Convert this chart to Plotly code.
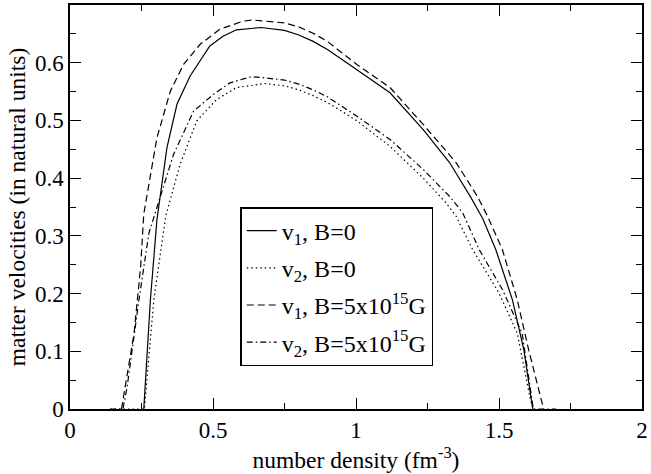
import plotly.graph_objects as go

# v1, B=0 (solid)
x_v1_b0 = [0.258, 0.281, 0.304, 0.339, 0.374, 0.420, 0.489, 0.535, 0.582, 0.640, 0.668, 0.75, 0.80, 0.85, 0.90, 0.95,
           1.004, 1.119, 1.235, 1.327, 1.400, 1.443, 1.489, 1.547, 1.587, 1.618]
y_v1_b0 = [0.0, 0.189, 0.328, 0.453, 0.528, 0.577, 0.629, 0.646, 0.657, 0.660, 0.661, 0.656, 0.648, 0.637, 0.623, 0.606,
           0.587, 0.548, 0.484, 0.427, 0.368, 0.330, 0.276, 0.189, 0.102, 0.0]

# v2, B=0 (dotted)
x_v2_b0 = [0.14, 0.26, 0.293, 0.335, 0.385, 0.443, 0.512, 0.582, 0.640, 0.68, 0.75, 0.80, 0.85, 0.90, 0.95,
           1.004, 1.119, 1.235, 1.315, 1.350, 1.408, 1.500, 1.564, 1.610, 1.62]
y_v2_b0 = [0.0, 0.0, 0.189, 0.335, 0.424, 0.499, 0.536, 0.557, 0.561, 0.564, 0.560, 0.553, 0.543, 0.531, 0.516,
           0.499, 0.455, 0.400, 0.357, 0.334, 0.276, 0.201, 0.131, 0.016, 0.0]

# v1, B=5x10^15 G (dashed)
x_v1_b5 = [0.180, 0.224, 0.247, 0.258, 0.304, 0.351, 0.397, 0.455, 0.524, 0.605, 0.64, 0.75, 0.80, 0.85, 0.90, 0.95,
           1.003, 1.119, 1.235, 1.350, 1.425, 1.460, 1.512, 1.564, 1.604, 1.656]
y_v1_b5 = [0.0, 0.131, 0.247, 0.338, 0.470, 0.551, 0.597, 0.632, 0.658, 0.672, 0.674, 0.669, 0.662, 0.651, 0.637, 0.618,
           0.597, 0.557, 0.493, 0.427, 0.368, 0.334, 0.276, 0.189, 0.102, 0.0]

# v2, B=5x10^15 G (dash-dot)
x_v2_b5 = [0.14, 0.185, 0.200, 0.241, 0.276, 0.304, 0.362, 0.432, 0.501, 0.559, 0.628, 0.657, 0.75, 0.80, 0.85, 0.90,
           0.95, 1.004, 1.119, 1.235, 1.330, 1.373, 1.431, 1.512, 1.581, 1.616, 1.62, 1.70]
y_v2_b5 = [0.0, 0.0, 0.039, 0.189, 0.305, 0.350, 0.441, 0.516, 0.545, 0.565, 0.575, 0.575, 0.570, 0.563, 0.553, 0.541,
           0.525, 0.507, 0.467, 0.415, 0.367, 0.340, 0.276, 0.207, 0.131, 0.016, 0.0, 0.0]

x_ticks = [0, 0.5, 1, 1.5, 2]
y_ticks = [0, 0.1, 0.2, 0.3, 0.4, 0.5, 0.6]

FONT = "Liberation Serif, 'Times New Roman', Times, 'DejaVu Serif', serif"
fig = go.Figure()

series = [
    (x_v1_b0, y_v1_b0, "v<sub>1</sub>, B=0", "solid"),
    (x_v2_b0, y_v2_b0, "v<sub>2</sub>, B=0", "1.5px,3px"),
    (x_v1_b5, y_v1_b5, "v<sub>1</sub>, B=5x10<sup>15</sup>G", "7px,4px"),
    (x_v2_b5, y_v2_b5, "v<sub>2</sub>, B=5x10<sup>15</sup>G", "6px,3px,1.5px,3px"),
]
for i, (xs, ys, name, dash) in enumerate(series):
    fig.add_trace(go.Scatter(x=xs, y=ys, mode="lines", name=name, legendgroup=str(i),
                             line=dict(color="black", width=1.2, dash=dash)))

axis_common = dict(
    showgrid=False, zeroline=False, showline=True, linecolor="black", linewidth=1.5,
    mirror="allticks", ticks="inside", ticklen=11, tickwidth=1, tickcolor="black",
    ticklabeloverflow="allow",
    tickfont=dict(family=FONT, size=23, color="black"),
)
fig.update_xaxes(range=[0, 2], tickvals=x_ticks, ticktext=[f"{v:g}" for v in x_ticks],
                 minor=dict(dtick=0.25, tick0=0, ticks="inside", ticklen=6, tickcolor="black"),
                 title=dict(text="number density (fm<sup>-3</sup>)", font=dict(family=FONT, size=23.5, color="black"),
                            standoff=0),
                 **axis_common)
fig.update_yaxes(range=[0, 0.7], tickvals=y_ticks, ticktext=[f"{v:g}" for v in y_ticks],
                 minor=dict(dtick=0.05, tick0=0, ticks="inside", ticklen=6, tickcolor="black"),
                 title=dict(text="matter velocities (in natural units)", font=dict(family=FONT, size=23.5, color="black"),
                            standoff=3),
                 **axis_common)

fig.update_layout(
    width=651, height=474,
    margin=dict(l=70, r=3, t=5, b=65),
    paper_bgcolor="white", plot_bgcolor="white",
    showlegend=True,
    legend=dict(x=0.2976, y=0.5, xanchor="left", yanchor="top",
                bgcolor="white", bordercolor="black", borderwidth=1.5,
                font=dict(family=FONT, size=24, color="black"),
                tracegroupgap=3, itemwidth=30),
)

fig.write_html("out.html", config={"displayModeBar": False},
               post_script="document.body.style.margin='0';document.body.style.overflow='hidden';")
